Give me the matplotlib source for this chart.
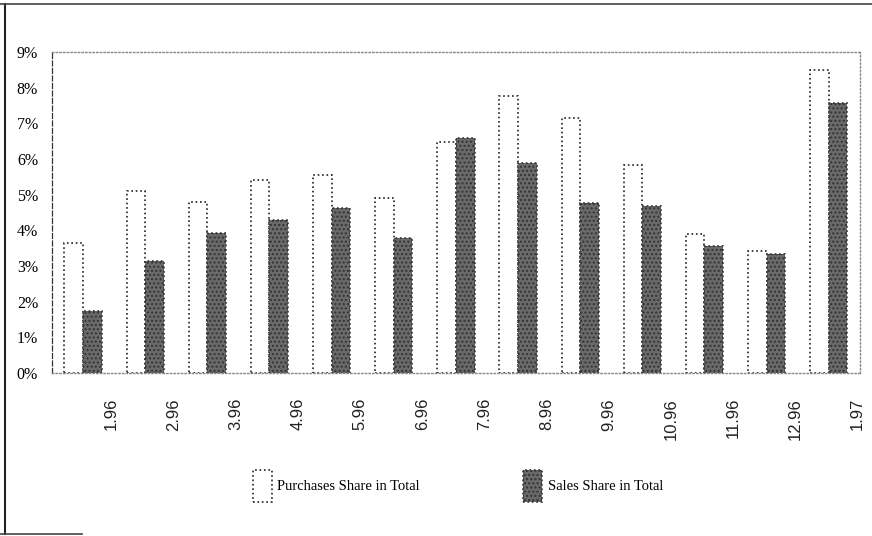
import numpy as np
import matplotlib.pyplot as plt
from matplotlib.patches import Rectangle
from matplotlib.lines import Line2D

months = ["1.96", "2.96", "3.96", "4.96", "5.96", "6.96", "7.96",
          "8.96", "9.96", "10.96", "11.96", "12.96", "1.97"]
purchases = [3.65, 5.09, 4.80, 5.40, 5.56, 4.92, 6.49, 7.78, 7.16, 5.82, 3.90, 3.43, 8.49]
sales = [1.74, 3.15, 3.94, 4.29, 4.63, 3.79, 6.60, 5.90, 4.78, 4.69, 3.57, 3.33, 7.56]
yticks = list(range(0, 10))

serif = "Liberation Serif"
sans = "Liberation Sans"

fig = plt.figure(figsize=(8.72, 5.36), dpi=100)
ax = fig.add_axes([0.0596, 0.304, 0.9264, 0.599])

x = np.arange(len(months))
w = 0.3
ax.bar(x - w / 2, purchases, w, facecolor="white", edgecolor="#222222",
       linestyle=":", linewidth=1.2)
ax.bar(x + w / 2, sales, w, facecolor="#6a6a6a", edgecolor="#333333",
       linestyle=":", linewidth=1.2, hatch="....")

ax.set_xlim(-0.5, len(months) - 0.5)
ax.set_ylim(0, 9)
ax.set_yticks(yticks)
ax.set_yticklabels([f"{v}%" for v in yticks])
for lab in ax.get_yticklabels():
    lab.set_fontfamily(serif)
    lab.set_fontsize(11.5)
ax.set_xticks(x + 0.46)
ax.set_xticklabels(months, rotation=90, va="top", ha="center")
for lab in ax.get_xticklabels():
    lab.set_fontfamily(sans)
    lab.set_fontsize(12)
    lab.set_color("#222222")
ax.tick_params(axis="y", length=0, pad=10)
ax.tick_params(axis="x", length=0, pad=18)

for side in ["top", "right", "bottom"]:
    ax.spines[side].set_linestyle(":")
    ax.spines[side].set_color("#888888")
    ax.spines[side].set_linewidth(1)
ax.spines["left"].set_linestyle((0, (4, 2)))
ax.spines["left"].set_color("#333333")
ax.spines["left"].set_linewidth(0.9)

# legend drawn by hand at the bottom
fig.patches.append(Rectangle((0.290, 0.063), 0.022, 0.060, transform=fig.transFigure,
                             facecolor="white", edgecolor="#222222", linestyle=":",
                             linewidth=1.2))
fig.text(0.318, 0.092, "Purchases Share in Total", fontfamily=serif, fontsize=10.5,
         va="center", ha="left")
fig.patches.append(Rectangle((0.600, 0.063), 0.021, 0.060, transform=fig.transFigure,
                             facecolor="#6a6a6a", edgecolor="#333333", linestyle=":",
                             linewidth=1.2, hatch="...."))
fig.text(0.628, 0.092, "Sales Share in Total", fontfamily=serif, fontsize=10.5,
         va="center", ha="left")

# outer frame lines
fig.add_artist(Line2D([0.006, 0.006], [0.003, 0.992], transform=fig.transFigure,
                      color="#222222", linewidth=1.5))
fig.add_artist(Line2D([0.0, 1.0], [0.992, 0.992], transform=fig.transFigure,
                      color="#444444", linewidth=1.2))
fig.add_artist(Line2D([0.0, 0.094], [0.004, 0.004], transform=fig.transFigure,
                      color="#444444", linewidth=1.2))

fig.savefig("out.png", dpi=100)
